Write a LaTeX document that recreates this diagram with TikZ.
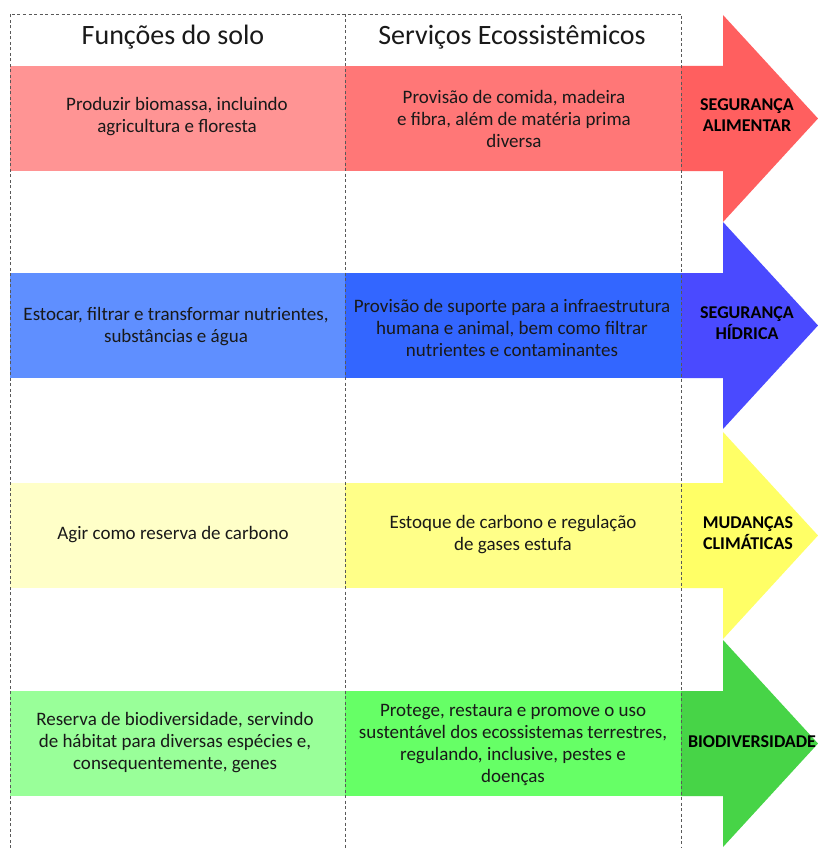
\documentclass[tikz,border=0pt]{standalone}
\usepackage{fontspec}
\setmainfont{Carlito}
\usetikzlibrary{arrows.meta}

\definecolor{redA}{HTML}{FF9494}
\definecolor{redB}{HTML}{FF7777}
\definecolor{redC}{HTML}{FF5F5F}
\definecolor{blueA}{HTML}{5F8FFF}
\definecolor{blueB}{HTML}{3366FF}
\definecolor{blueC}{HTML}{4A4AFF}
\definecolor{yelA}{HTML}{FFFFC8}
\definecolor{yelB}{HTML}{FFFF88}
\definecolor{yelC}{HTML}{FFFF66}
\definecolor{grnA}{HTML}{99FF99}
\definecolor{grnB}{HTML}{66FF66}
\definecolor{grnC}{HTML}{47D447}

\begin{document}
\begin{tikzpicture}[x=1pt, y=-1pt,
    func/.style={align=center, text=black!90, font=\fontsize{19}{22}\selectfont},
    goal/.style={align=center, text=black, font=\fontsize{18}{21}\selectfont\bfseries},
    colhead/.style={text=black!90, font=\fontsize{28}{32}\selectfont},
    guide/.style={draw=black!65, dash pattern=on 3pt off 2.5pt, line width=0.9pt}]

    \fill[white] (0,0) rectangle (818,848);
    \useasboundingbox (0,0) rectangle (818,848);

    % Arrows
    \foreach \t/\ca/\cb/\cc in {66/redA/redB/redC, 273/blueA/blueB/blueC,
                                483/yelA/yelB/yelC, 691/grnA/grnB/grnC} {
        \fill[\ca] (10,\t) rectangle (345,\t+105);
        \fill[\cb] (345,\t) rectangle (681,\t+105);
        \fill[\cc] (681,\t) -- (723,\t) -- (723,\t-51) -- (818,\t+52.5)
                   -- (723,\t+156) -- (723,\t+105) -- (681,\t+105) -- cycle;
    }

    % Columns
    \draw[guide] (10,848) -- (10,14) -- (681,14) -- (681,848);
    \draw[guide] (345,14) -- (345,848);

    \node[colhead] (hfunc) at (173,37) {Funções do solo};
    \node[colhead] (hserv) at (512,37) {Serviços Ecossistêmicos};

    % Row 1
    \node[func] (f1) at (177,117) {Produzir biomassa, incluindo\\agricultura e floresta};
    \node[func] (s1) at (514,119) {Provisão de comida, madeira\\e fibra, além de matéria prima\\diversa};
    \node[goal] (g1) at (747,115) {SEGURANÇA\\ALIMENTAR};

    % Row 2
    \node[func] (f2) at (176,327) {Estocar, filtrar e transformar nutrientes,\\substâncias e água};
    \node[func] (s2) at (512,328) {Provisão de suporte para a infraestrutura\\humana e animal, bem como filtrar\\nutrientes e contaminantes};
    \node[goal] (g2) at (747,323) {SEGURANÇA\\HÍDRICA};

    % Row 3
    \node[func] (f3) at (173,535) {Agir como reserva de carbono};
    \node[func] (s3) at (513,535) {Estoque de carbono e regulação\\de gases estufa};
    \node[goal] (g3) at (748,533) {MUDANÇAS\\CLIMÁTICAS};

    % Row 4
    \node[func] (f4) at (175,743) {Reserva de biodiversidade, servindo\\de hábitat para diversas espécies e,\\consequentemente, genes};
    \node[func] (s4) at (513,745) {Protege, restaura e promove o uso\\sustentável dos ecossistemas terrestres,\\regulando, inclusive, pestes e\\doenças};
    \node[goal] (g4) at (752,742) {BIODIVERSIDADE};
\end{tikzpicture}
\end{document}
